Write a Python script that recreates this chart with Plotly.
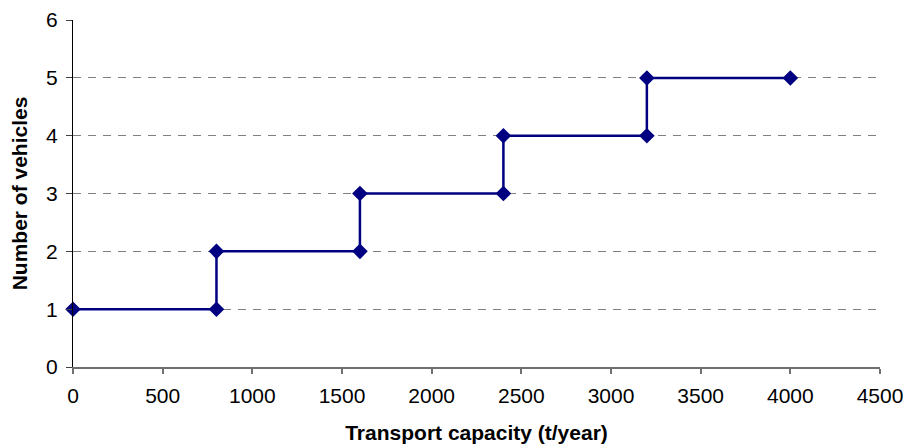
import plotly.graph_objects as go

capacity = [0, 800, 800, 1600, 1600, 2400, 2400, 3200, 3200, 4000]
vehicles = [1, 1, 2, 2, 3, 3, 4, 4, 5, 5]

fig = go.Figure()
fig.add_trace(go.Scatter(
    x=capacity, y=vehicles, mode="lines+markers",
    line=dict(color="#000080", width=2.5),
    marker=dict(symbol="diamond", size=12, color="#000080"),
    showlegend=False, cliponaxis=False,
))

font = "Liberation Sans, Arial, sans-serif"
fig.update_layout(
    width=908, height=438,
    margin=dict(l=65, r=36, t=12, b=79, autoexpand=False),
    plot_bgcolor="white", paper_bgcolor="white",
    font=dict(family=font, size=21, color="black"),
)
fig.update_xaxes(
    range=[0, 4500], dtick=500, tick0=0, showgrid=False,
    showline=True, linecolor="#707070", linewidth=1.5,
    ticks="outside", ticklen=5, tickcolor="#707070", tickwidth=1.5,
    tickfont=dict(size=21), ticklabelstandoff=4,
    title=dict(text="<b>Transport capacity (t/year)</b>", font=dict(size=21), standoff=19),
    zeroline=False, automargin=False,
)
fig.update_yaxes(
    range=[0, 6.002], dtick=1, tick0=0,
    showgrid=True, gridcolor="#808080", griddash="8px,7px", gridwidth=1.2,
    showline=True, linecolor="black", linewidth=1.2,
    ticks="outside", ticklen=6, tickcolor="#404040",
    tickfont=dict(size=21), ticklabelstandoff=4,
    title=dict(text="<b>Number of vehicles</b>", font=dict(size=21), standoff=14),
    zeroline=False, automargin=False,
)
fig.write_html("out.html")
